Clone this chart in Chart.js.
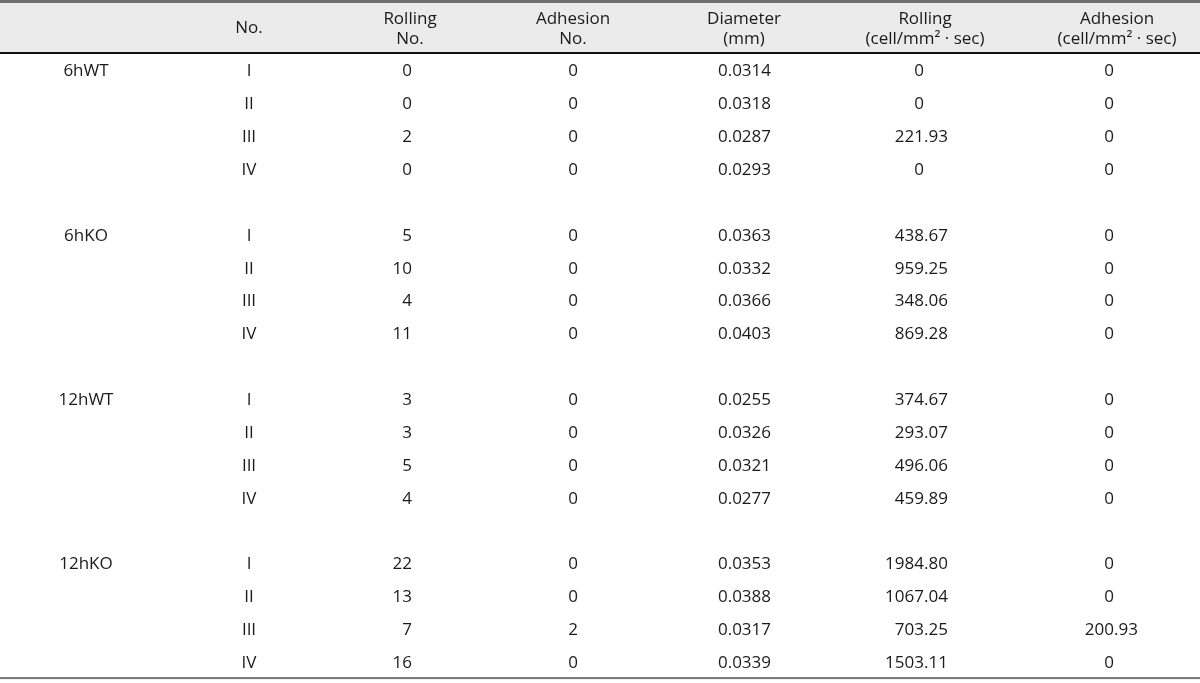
<!DOCTYPE html>
<html>
<head>
<meta charset="utf-8">
<script src="https://cdn.jsdelivr.net/npm/chart.js@4"></script>
<style>
html,body{margin:0;padding:0;background:#fff;}
#wrap{width:1200px;height:683px;}
</style>
</head>
<body>
<div id="wrap"><canvas id="c" width="1200" height="683"></canvas></div>
<script>
// ---- data ----
const groups = ['6hWT', '6hKO', '12hWT', '12hKO'];
const sampleNos = ['I', 'II', 'III', 'IV'];
const rollingNo = [0, 0, 2, 0, 5, 10, 4, 11, 3, 3, 5, 4, 22, 13, 7, 16];
const adhesionNo = [0, 0, 0, 0, 0, 0, 0, 0, 0, 0, 0, 0, 0, 0, 2, 0];
const diameter = [0.0314, 0.0318, 0.0287, 0.0293, 0.0363, 0.0332, 0.0366, 0.0403,
                  0.0255, 0.0326, 0.0321, 0.0277, 0.0353, 0.0388, 0.0317, 0.0339];
const rollingRate = [0, 0, 221.93, 0, 438.67, 959.25, 348.06, 869.28,
                     374.67, 293.07, 496.06, 459.89, 1984.80, 1067.04, 703.25, 1503.11];
const adhesionRate = [0, 0, 0, 0, 0, 0, 0, 0, 0, 0, 0, 0, 0, 0, 200.93, 0];
const headers = [[''], ['No.'], ['Rolling', 'No.'], ['Adhesion', 'No.'], ['Diameter', '(mm)'],
                 ['Rolling', '(cell/mm\u00B2 \u00B7 sec)'], ['Adhesion', '(cell/mm\u00B2 \u00B7 sec)']];

// ---- layout / style (not data) ----
const FONT = '17px "Open Sans", "Noto Sans", sans-serif';
const colAnchor = [86, 249, 412, 578, 744.5, 924, 1114];   // x (scale units)
const colAlign  = ['center', 'center', 'dec', 'dec', 'center', 'dec', 'dec'];
const headCenter = [86, 249, 410, 573, 744, 925, 1117];
const ROW0 = 71.5, ROWH = 32.86;

const fmt = [
  (i) => '',
  (i) => sampleNos[i % 4],
  (i) => String(rollingNo[i]),
  (i) => String(adhesionNo[i]),
  (i) => diameter[i].toFixed(4),
  (i) => rollingRate[i] === 0 ? '0' : rollingRate[i].toFixed(2),
  (i) => adhesionRate[i] === 0 ? '0' : adhesionRate[i].toFixed(2)
];
const rowIdx = (i) => Math.floor(i / 4) * 5 + (i % 4);

const datasets = [];
datasets.push({
  label: 'group',
  data: groups.map((g, gi) => ({ x: colAnchor[0], y: gi * 5, t: g })),
  col: 0
});
for (let c = 1; c < 7; c++) {
  datasets.push({
    label: 'col' + c,
    data: rollingNo.map((_, i) => ({ x: colAnchor[c], y: rowIdx(i), t: fmt[c](i) })),
    col: c
  });
}

const tablePlugin = {
  id: 'tablePlugin',
  beforeDatasetsDraw(chart) {
    const { ctx } = chart;
    const xs = chart.scales.x, ys = chart.scales.y;
    const yTop = ys.getPixelForValue(-2.085);
    const yHead = ys.getPixelForValue(-0.563);
    const yBot = ys.getPixelForValue(18.46);
    const x0 = xs.getPixelForValue(0), x1 = xs.getPixelForValue(1200);
    ctx.save();
    ctx.fillStyle = '#ebebeb';
    ctx.fillRect(x0, yTop, x1 - x0, yHead - yTop);
    ctx.fillStyle = '#6e6e6e';
    ctx.fillRect(x0, yTop - 3, x1 - x0, 3);
    ctx.fillStyle = '#111';
    ctx.fillRect(x0, yHead - 1, x1 - x0, 2);
    ctx.fillStyle = '#777';
    ctx.fillRect(x0, yBot - 1, x1 - x0, 2);
    ctx.font = FONT;
    ctx.fillStyle = '#1a1a1a';
    ctx.textAlign = 'center';
    ctx.textBaseline = 'middle';
    headers.forEach((lines, c) => {
      const x = xs.getPixelForValue(headCenter[c]);
      if (lines.length === 1) {
        ctx.fillText(lines[0], x, ys.getPixelForValue(-1.32));
      } else {
        ctx.fillText(lines[0], x, ys.getPixelForValue(-1.59));
        ctx.fillText(lines[1], x, ys.getPixelForValue(-0.97));
      }
    });
    ctx.restore();
  },
  afterDatasetsDraw(chart) {
    const { ctx } = chart;
    ctx.save();
    ctx.font = FONT;
    ctx.fillStyle = '#1a1a1a';
    ctx.textBaseline = 'middle';
    chart.data.datasets.forEach((ds, di) => {
      const meta = chart.getDatasetMeta(di);
      meta.data.forEach((pt, j) => {
        const t = ds.data[j].t;
        if (colAlign[ds.col] === 'dec') {
          const intPart = t.split('.')[0];
          const w = ctx.measureText(intPart).width;
          ctx.textAlign = 'left';
          ctx.fillText(t, pt.x - w, pt.y);
        } else {
          ctx.textAlign = 'center';
          ctx.fillText(t, pt.x, pt.y);
        }
      });
    });
    ctx.restore();
  }
};

new Chart(document.getElementById('c'), {
  type: 'scatter',
  data: { datasets },
  options: {
    responsive: false,
    animation: false,
    devicePixelRatio: 1,
    layout: { padding: 0 },
    elements: { point: { radius: 0, hoverRadius: 0 } },
    plugins: { legend: { display: false }, tooltip: { enabled: false } },
    scales: {
      x: { type: 'linear', display: false, min: 0, max: 1200 },
      y: { type: 'linear', display: false, reverse: true,
           min: -ROW0 / ROWH, max: (683 - ROW0) / ROWH }
    }
  },
  plugins: [tablePlugin]
});
</script>
</body>
</html>
